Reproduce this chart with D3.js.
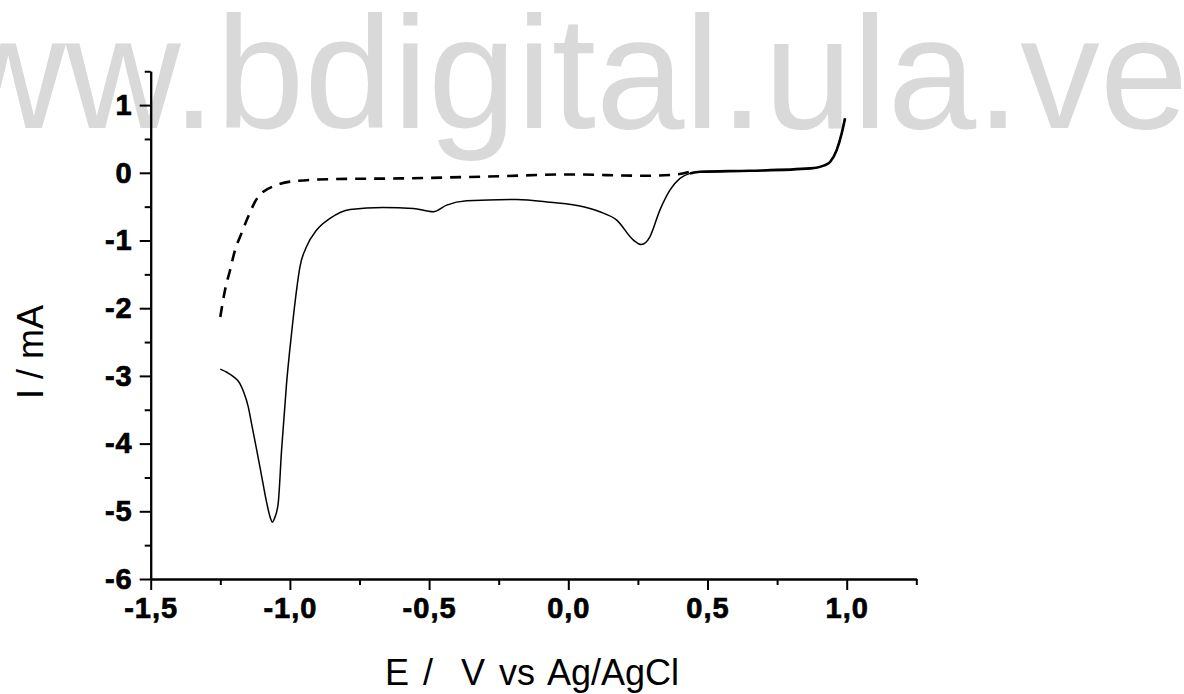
<!DOCTYPE html>
<html>
<head>
<meta charset="utf-8">
<script src="https://cdn.jsdelivr.net/npm/d3@7"></script>
<style>
  body { margin: 0; background: #fff; }
  svg { display: block; font-family: "Liberation Sans", Arial, sans-serif; }
</style>
</head>
<body>
<svg id="chart" width="1184" height="694"></svg>
<script>
// forward scan (solid): E / V and I / mA
var solidE = [-1.25, -1.225, -1.203, -1.180, -1.165, -1.150, -1.137, -1.119, -1.101, -1.083, -1.070, -1.063, -1.055,
  -1.042, -1.030, -1.012, -0.994, -0.976, -0.964, -0.940, -0.904, -0.856, -0.784, -0.665, -0.557,
  -0.485, -0.437, -0.365, -0.185, -0.066, 0.054, 0.113, 0.174, 0.234, 0.262, 0.278, 0.293, 0.329,
  0.365, 0.401, 0.437, 0.473, 0.653, 0.869, 0.920, 0.941, 0.964, 0.982, 0.994];
var solidI = [-2.90, -2.95, -3.01, -3.11, -3.25, -3.45, -3.72, -4.10, -4.49, -4.88, -5.10, -5.16, -5.10,
  -4.88, -4.10, -3.11, -2.37, -1.73, -1.39, -1.09, -0.846, -0.674, -0.541, -0.511, -0.526,
  -0.576, -0.477, -0.414, -0.393, -0.435, -0.502, -0.576, -0.70, -0.994, -1.06, -1.03, -0.945, -0.551,
  -0.256, -0.083, -0.009, 0.015, 0.03, 0.065, 0.11, 0.163, 0.335, 0.582, 0.804];

// blank scan (dashed); it runs on top of the solid one from about 0.44 V
var dashE = [-1.25, -1.233, -1.215, -1.197, -1.174, -1.150, -1.114, -1.047, -0.976, -0.845, -0.605,
  -0.245, -0.006, 0.282, 0.389, 0.437];
var dashI = [-2.13, -1.73, -1.44, -1.14, -0.895, -0.65, -0.355, -0.18, -0.12, -0.093, -0.083,
  -0.05, -0.024, -0.044, -0.024, 0.015];
var overlapFrom = 0.437;

var xTicks = [-1.5, -1.0, -0.5, 0.0, 0.5, 1.0];
var xTickLabels = ['-1,5', '-1,0', '-0,5', '0,0', '0,5', '1,0'];
var xMinor = [-1.25, -0.75, -0.25, 0.25, 0.75, 1.25];
var yTicks = [1, 0, -1, -2, -3, -4, -5, -6];
var yTickLabels = ['1', '0', '-1', '-2', '-3', '-4', '-5', '-6'];
var yMinor = [1.5, 0.5, -0.5, -1.5, -2.5, -3.5, -4.5, -5.5];

var xTitle = 'E /  V vs Ag/AgCl';
var yTitle = 'I / mA';
var watermark = 'www.bdigital.ula.ve';

var svg = d3.select('#chart');

var x = d3.scaleLinear().domain([-1.5, 1.25]).range([150.7, 916.3]);
var y = d3.scaleLinear().domain([-6, 1.5]).range([579, 71.25]);

// watermark behind everything
svg.append('text')
  .attr('x', -164)
  .attr('y', 128)
  .attr('fill', '#d9d9d9')
  .style('font-size', '159px')
  .text(watermark);

function styleAxis(g) {
  g.select('.domain').attr('stroke', '#000').attr('stroke-width', 2);
  g.selectAll('.tick line').attr('stroke', '#000').attr('stroke-width', 2);
}

// minor ticks first, major axis on top
svg.append('g')
  .attr('transform', 'translate(0,' + y(-6) + ')')
  .call(d3.axisBottom(x).tickValues(xMinor).tickSize(6).tickSizeOuter(0).tickFormat(''))
  .call(styleAxis);

svg.append('g')
  .attr('class', 'major')
  .attr('transform', 'translate(0,' + y(-6) + ')')
  .call(d3.axisBottom(x).tickValues(xTicks).tickSize(11).tickSizeOuter(0).tickPadding(7)
    .tickFormat((d, i) => xTickLabels[i]))
  .call(styleAxis);

svg.append('g')
  .attr('transform', 'translate(' + x(-1.5) + ',0)')
  .call(d3.axisLeft(y).tickValues(yMinor).tickSize(6).tickSizeOuter(0).tickFormat(''))
  .call(styleAxis);

svg.append('g')
  .attr('class', 'major')
  .attr('transform', 'translate(' + x(-1.5) + ',0)')
  .call(d3.axisLeft(y).tickValues(yTicks).tickSize(11).tickSizeOuter(0).tickPadding(7)
    .tickFormat((d, i) => yTickLabels[i]))
  .call(styleAxis);

svg.selectAll('.major').attr('font-size', null).attr('font-family', null);
// scanned labels look heavy, so give them a thin outline
svg.selectAll('.tick text')
  .attr('fill', '#000')
  .attr('stroke', '#000')
  .attr('stroke-width', 0.7)
  .style('font-size', '29px')
  .style('font-weight', 'bold')
  .style('letter-spacing', '1px');

// curves
var line = d3.line()
  .x(d => x(d[0]))
  .y(d => y(d[1]))
  .curve(d3.curveMonotoneX);

var solid = d3.zip(solidE, solidI);

svg.append('path')
  .datum(solid)
  .attr('d', line)
  .attr('fill', 'none')
  .attr('stroke', '#000')
  .attr('stroke-width', 1.5);

// both scans overlap here, so the trace looks heavier
svg.append('path')
  .datum(solid.filter(d => d[0] >= overlapFrom))
  .attr('d', line)
  .attr('fill', 'none')
  .attr('stroke', '#000')
  .attr('stroke-width', 2.6);

svg.append('path')
  .datum(d3.zip(dashE, dashI))
  .attr('d', line)
  .attr('fill', 'none')
  .attr('stroke', '#000')
  .attr('stroke-width', 2.6)
  .attr('stroke-dasharray', '11,8');

// axis titles
svg.append('text')
  .attr('x', 385)
  .attr('y', 685)
  .style('font-size', '36px')
  .style('white-space', 'pre')
  .style('word-spacing', '4px')
  .attr('fill', '#000')
  .text(xTitle);

svg.append('text')
  .attr('transform', 'translate(43,352) rotate(-90)')
  .attr('text-anchor', 'middle')
  .style('font-size', '36px')
  .attr('fill', '#000')
  .text(yTitle);
</script>
</body>
</html>
